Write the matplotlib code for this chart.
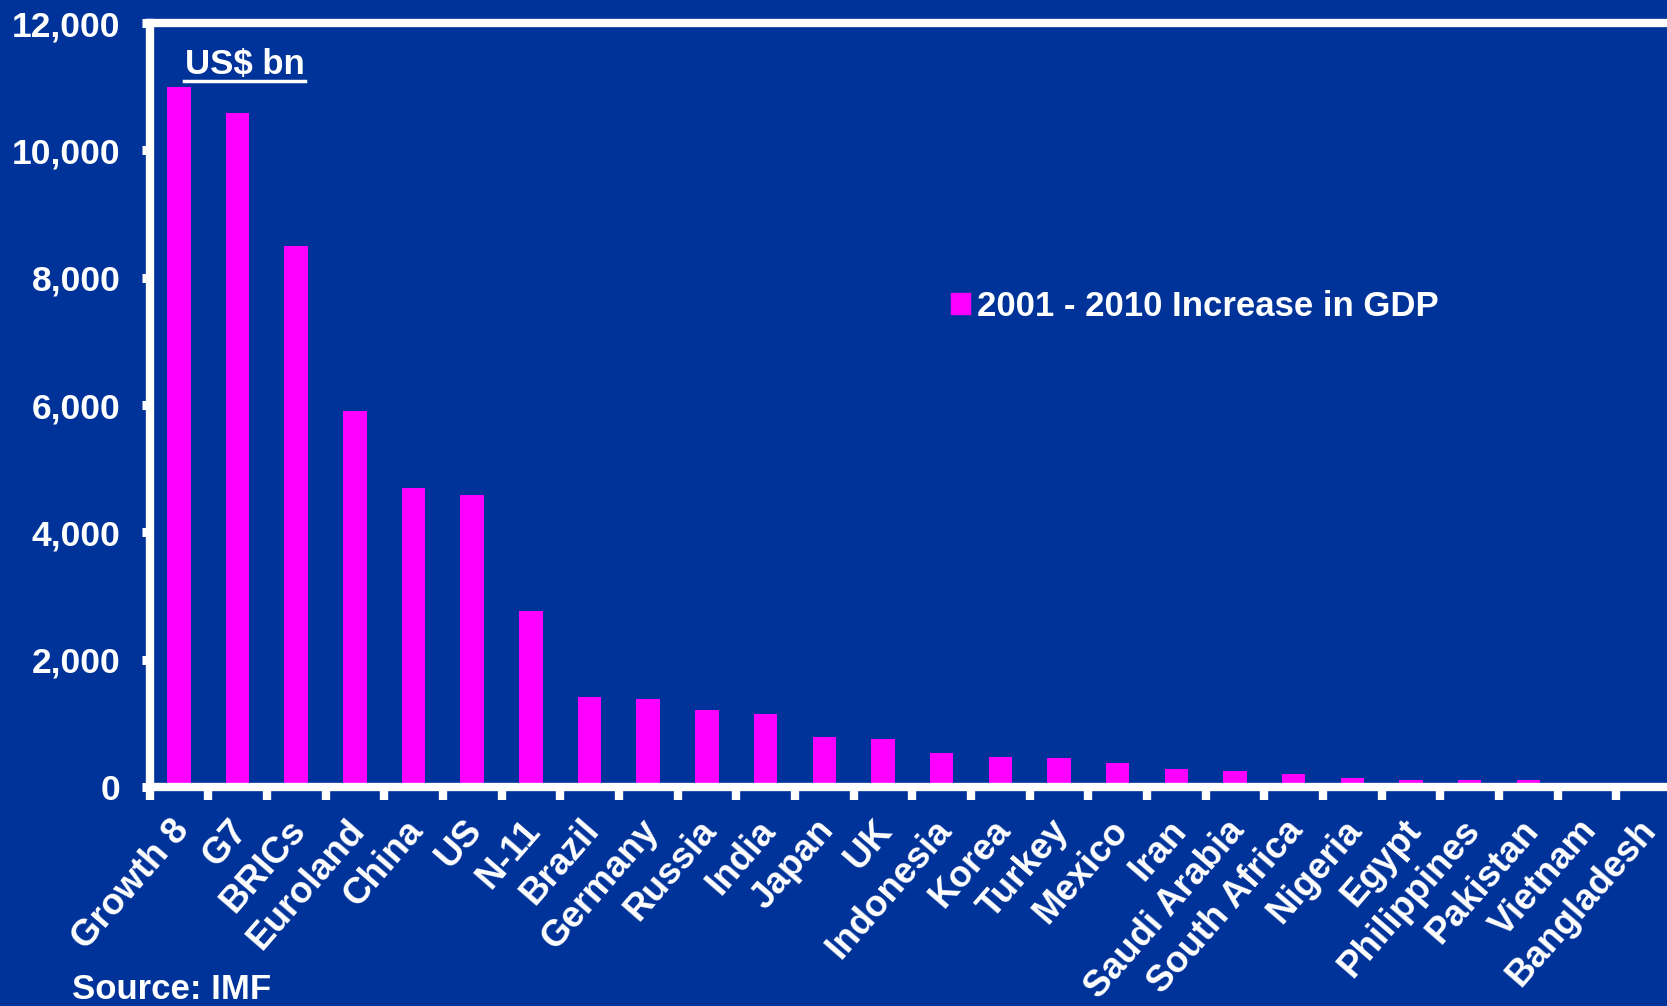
import matplotlib.pyplot as plt
from matplotlib.lines import Line2D
from matplotlib.patches import Patch
from matplotlib.transforms import ScaledTranslation
import numpy as np

plt.rcParams['font.family'] = ['Liberation Sans', 'DejaVu Sans']
plt.rcParams['font.weight'] = 'bold'

BG = "#003399"
BAR = "#ff00ff"

# 2001 - 2010 increase in GDP, US$ bn
countries = [
    "Growth 8", "G7", "BRICs", "Euroland", "China", "US", "N-11", "Brazil",
    "Germany", "Russia", "India", "Japan", "UK", "Indonesia", "Korea",
    "Turkey", "Mexico", "Iran", "Saudi Arabia", "South Africa", "Nigeria",
    "Egypt", "Philippines", "Pakistan", "Vietnam", "Bangladesh",
]
gdp_increase = [
    11000, 10580, 8500, 5900, 4690, 4590, 2760, 1420,
    1390, 1210, 1140, 790, 750, 540, 470,
    460, 370, 290, 250, 210, 140,
    110, 110, 110, 70, 40,
]
yticks = [0, 2000, 4000, 6000, 8000, 10000, 12000]
series_label = "2001 - 2010 Increase in GDP"

W, H = 1667, 1006
fig = plt.figure(figsize=(W / 100, H / 100), dpi=100, facecolor=BG)

# axes box in pixels: left spine 149.5, zero 787, top 23, right edge just past the image
left, right, bottom, top = 149.5, 1675, 787, 23
ax = fig.add_axes([left / W, 1 - bottom / H, (right - left) / W, (bottom - top) / H])
ax.set_facecolor(BG)

x = np.arange(len(countries))
ax.bar(x, gdp_increase, width=0.4, color=BAR, zorder=2)

ax.set_xlim(-0.5, len(countries) - 0.5)
ax.set_ylim(0, 12000)

for side in ["top", "left", "bottom"]:
    ax.spines[side].set_color("white")
    ax.spines[side].set_linewidth(6)
    ax.spines[side].set_zorder(3)
ax.spines["right"].set_visible(False)

ax.set_yticks(yticks)
ax.set_yticklabels([f"{v:,}" for v in yticks])
ax.tick_params(axis="y", direction="out", length=6, width=6.5, color="white",
               labelcolor="white", labelsize=25.5, pad=15)

ax.set_xticks(x)
ax.set_xticklabels(countries)
ax.set_xticks(np.arange(-0.5, len(countries)), minor=True)
ax.tick_params(axis="x", which="major", length=0, labelcolor="white",
               labelsize=26.5, pad=27)
ax.tick_params(axis="x", which="minor", direction="out", length=9, width=6,
               color="white")
shift = ScaledTranslation(4 / 100, 0, fig.dpi_scale_trans)
for lab in ax.get_xticklabels():
    lab.set_rotation(49)
    lab.set_ha("right")
    lab.set_va("center")
    lab.set_rotation_mode("anchor")
    lab.set_transform(lab.get_transform() + shift)

# unit label, underlined
fig.text(185 / W, 1 - 74 / H, "US$ bn", color="white", fontsize=25,
         fontweight="bold", ha="left", va="baseline")
fig.add_artist(Line2D([184 / W, 305 / W], [1 - 80.5 / H, 1 - 80.5 / H],
                      color="white", linewidth=2.5, transform=fig.transFigure))

leg = ax.legend(handles=[Patch(color=BAR, label=series_label)],
                loc="center left", bbox_to_anchor=(951 / W, 1 - 306 / H),
                bbox_transform=fig.transFigure, frameon=False, fontsize=25,
                handlelength=0.55, handleheight=0.55, handletextpad=0.2,
                borderpad=0, borderaxespad=0)
for t in leg.get_texts():
    t.set_color("white")
    t.set_fontweight("bold")

fig.text(72 / W, 1 - 999 / H, "Source: IMF", color="white", fontsize=25,
         fontweight="bold", ha="left", va="baseline")

fig.savefig("out.png", dpi=100, facecolor=BG)
